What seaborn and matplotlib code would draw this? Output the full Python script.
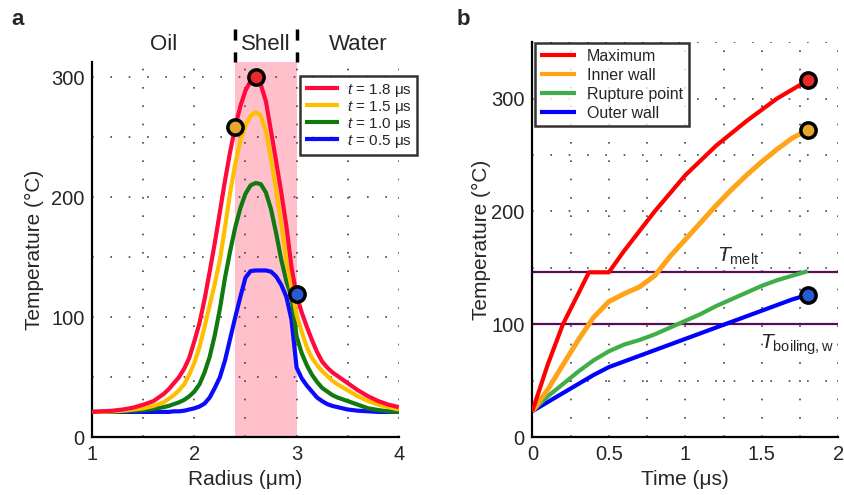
import matplotlib
matplotlib.use("Agg")
import matplotlib.pyplot as plt
import matplotlib.transforms as mtransforms
from matplotlib.lines import Line2D
from matplotlib.ticker import MultipleLocator
import seaborn as sns
import pandas as pd

# ---- panel a: temperature profiles across the radius ----
radius = [1.0, 1.1, 1.2, 1.3, 1.4, 1.5, 1.6, 1.7,
          1.75, 1.8, 1.85, 1.9, 1.95, 2.0, 2.05, 2.1, 2.15, 2.2,
          2.25, 2.3, 2.35, 2.4, 2.45, 2.5, 2.55, 2.6,
          2.65, 2.7, 2.75, 2.8, 2.85, 2.9, 2.95, 3.0,
          3.05, 3.1, 3.15, 3.2, 3.25, 3.3, 3.35, 3.4,
          3.5, 3.6, 3.7, 3.8, 3.9, 4.0]
temp_18 = [21, 21.5, 22, 23, 24.5, 27, 30, 36,
           40, 45, 50, 57, 66, 80, 95, 115, 138, 162,
           188, 214, 238, 259, 276, 289, 297, 300,
           294, 280, 255, 230, 204, 176, 142, 118,
           104, 92, 81, 71, 63, 58, 54, 51,
           45, 39, 34, 30, 27, 25]
temp_15 = [21, 21, 21.5, 22, 23, 24, 26, 29,
           32, 35, 39, 44, 52, 62, 75, 92, 110, 128,
           148, 175, 204, 228, 247, 260, 268, 271,
           268, 255, 232, 206, 178, 148, 125, 102,
           88, 75, 66, 60, 55, 51, 47, 44,
           39, 34, 30, 27, 25, 23]
temp_10 = [21, 21, 21, 21.5, 22, 22.5, 23.5, 25,
           26, 27.5, 29, 31, 34, 38, 44, 54, 67, 85,
           107, 133, 155, 175, 191, 203, 210, 212,
           211, 204, 190, 170, 148, 130, 117, 84,
           70, 60, 52, 46, 41, 38, 35, 33,
           30, 27, 24, 22.5, 21.5, 21]
temp_05 = [21, 21, 21, 21, 21, 21, 21, 21,
           21, 21.5, 21.5, 22, 23, 24, 25.5, 28, 33, 41,
           50, 64, 82, 100, 117, 133, 138.5, 139,
           139, 139, 138, 134, 127, 117, 98, 58,
           49, 43, 38, 33, 30, 27.5, 26, 25,
           23, 22, 21.5, 21, 21, 21]
profile_labels = ["$t$ = 1.8 μs", "$t$ = 1.5 μs", "$t$ = 1.0 μs", "$t$ = 0.5 μs"]
region_names = ["Oil", "Shell", "Water"]
region_pos = [1.7, 2.7, 3.6]
shell_edges = [2.4, 3.0]
# markers on the 1.8 us profile: inner wall, maximum, outer wall
mark_r = [2.4, 2.6, 3.0]
mark_t = [259, 300, 119]

# ---- panel b: temperature vs time ----
time_max = [0, 0.1, 0.2, 0.3, 0.37, 0.5, 0.6, 0.8, 1.0, 1.2, 1.4, 1.6, 1.8]
temp_max = [23, 64, 100, 127, 146, 146, 165, 200, 232, 258, 280, 300, 316]
time = [0, 0.1, 0.2, 0.3, 0.4, 0.5, 0.6, 0.7, 0.8, 0.9, 1.0, 1.1, 1.2, 1.3,
        1.4, 1.5, 1.6, 1.7, 1.8]
temp_inner = [23, 42, 64, 86, 106, 120, 127, 133, 143, 160, 175, 190, 205, 219,
              232, 244, 255, 265, 272]
temp_rupture = [23, 36, 47, 58, 68, 76, 82, 86, 91, 97, 103, 109, 116, 122,
                128, 134, 139, 143, 147]
temp_outer = [23, 31, 39, 47, 55, 62, 67, 72, 77, 82, 87, 92, 97, 102,
              107, 112, 117, 122, 126]
series_names = ["Maximum", "Inner wall", "Rupture point", "Outer wall"]
t_melt = 146
t_boiling = 100

sns.set_style("white")
plt.rcParams['font.family'] = ['Liberation Sans', 'DejaVu Sans']
plt.rcParams['mathtext.fontset'] = 'custom'
plt.rcParams['mathtext.rm'] = 'Liberation Sans'
plt.rcParams['mathtext.it'] = 'Liberation Sans:italic'
plt.rcParams['lines.solid_joinstyle'] = 'round'
plt.rcParams['lines.solid_capstyle'] = 'butt'

fig = plt.figure(figsize=(8.45, 4.95), dpi=100)
ax_a = fig.add_axes([0.109, 0.117, 0.363, 0.758])
ax_b = fig.add_axes([0.630, 0.117, 0.362, 0.798])

grid_kw = dict(color="#444444", linestyle=(0, (1, 10)), linewidth=1.2)


def style_axes(ax, tick_len):
    for side in ["top", "right"]:
        ax.spines[side].set_visible(False)
    for side in ["left", "bottom"]:
        ax.spines[side].set_linewidth(1.6)
        ax.spines[side].set_color("black")
    ax.tick_params(axis="x", which="both", direction="in", length=tick_len,
                   width=1.6, labelsize=14.5, pad=6)
    ax.tick_params(axis="y", which="both", direction="inout", length=4,
                   width=1.6, labelsize=14.5)
    ax.tick_params(which="minor", labelbottom=False, labelleft=False)
    ax.grid(True, which="both", **grid_kw)
    ax.set_axisbelow(True)


# panel a
n = len(radius)
df_a = pd.DataFrame({
    "r": radius * 4,
    "T": temp_05 + temp_10 + temp_15 + temp_18,
    "t": [profile_labels[3]] * n + [profile_labels[2]] * n
         + [profile_labels[1]] * n + [profile_labels[0]] * n,
})
pal_a = dict(zip(profile_labels, ["#ff0a3a", "#ffbf00", "#107a10", "#0a0aff"]))
ax_a.axvspan(shell_edges[0], shell_edges[1], color="#ffc0cb", lw=0, zorder=0)
sns.lineplot(data=df_a, x="r", y="T", hue="t", palette=pal_a,
             hue_order=profile_labels[::-1], lw=3, legend=False, ax=ax_a, zorder=3)
for r, T, c in zip(mark_r, mark_t, ["#e6a82a", "#e82a2a", "#2a5bd7"]):
    ax_a.plot(r, T, ls="none", marker="o", ms=11, mew=2.5, mec="black",
              mfc=c, zorder=5)
ax_a.set_xlim(1, 4)
ax_a.set_ylim(0, 313)
ax_a.xaxis.set_major_locator(MultipleLocator(1))
ax_a.xaxis.set_minor_locator(MultipleLocator(0.5))
ax_a.yaxis.set_major_locator(MultipleLocator(100))
ax_a.yaxis.set_minor_locator(MultipleLocator(50))
style_axes(ax_a, 8)
ax_a.set_xlabel("Radius (μm)", fontsize=15)
ax_a.set_ylabel("Temperature (°C)", fontsize=15, labelpad=5)

trans_a = mtransforms.blended_transform_factory(ax_a.transData, ax_a.transAxes)
for name, x in zip(region_names, region_pos):
    ax_a.text(x, 1.045, name, transform=trans_a, ha="center", va="center",
              fontsize=16)
for x in shell_edges:
    ax_a.plot([x, x], [1.088, 1.0], transform=trans_a, color="black", lw=2.5,
              ls=(0, (3.2, 3.4)), clip_on=False)

handles_a = [Line2D([], [], color=pal_a[k], lw=3) for k in profile_labels]
leg_a = ax_a.legend(handles_a, profile_labels, loc="upper left",
                    bbox_to_anchor=(0.355, 0.846), bbox_transform=fig.transFigure,
                    fontsize=11, frameon=True, fancybox=False,
                    handlelength=2.2, borderpad=0.35, labelspacing=0.0,
                    handletextpad=0.5, borderaxespad=0)
leg_a.get_frame().set_edgecolor("black")
leg_a.get_frame().set_linewidth(1.8)
leg_a.set_zorder(10)

# panel b
df_b = pd.DataFrame({
    "time": time_max + time * 3,
    "T": temp_max + temp_inner + temp_rupture + temp_outer,
    "s": [series_names[0]] * len(time_max) + [series_names[1]] * len(time)
         + [series_names[2]] * len(time) + [series_names[3]] * len(time),
})
pal_b = dict(zip(series_names, ["#ff0000", "#ffa31a", "#3fae48", "#0000ff"]))
ax_b.axhline(t_melt, color="#5a0a5a", lw=1.6, zorder=2)
ax_b.axhline(t_boiling, color="#5a0a5a", lw=1.6, zorder=2)
sns.lineplot(data=df_b, x="time", y="T", hue="s", palette=pal_b,
             hue_order=series_names[::-1], lw=3, legend=False, ax=ax_b, zorder=3)
ax_b.lines[-2].set_linewidth(3.6)  # rupture point drawn a bit heavier
for T, c in zip([temp_max[-1], temp_inner[-1], temp_outer[-1]],
                ["#e82a2a", "#e6a82a", "#2a5bd7"]):
    ax_b.plot(time[-1], T, ls="none", marker="o", ms=11, mew=2.5, mec="black",
              mfc=c, zorder=5)
ax_b.text(1.21, t_melt + 5, "$T_{\\rm melt}$", fontsize=15, ha="left", va="bottom")
ax_b.text(1.49, t_boiling - 7, "$T_{\\rm boiling,w}$", fontsize=15, ha="left",
          va="top")
ax_b.set_xlim(0, 2)
ax_b.set_ylim(0, 350)
ax_b.xaxis.set_major_locator(MultipleLocator(0.5))
ax_b.xaxis.set_minor_locator(MultipleLocator(0.25))
ax_b.yaxis.set_major_locator(MultipleLocator(100))
ax_b.yaxis.set_minor_locator(MultipleLocator(50))
style_axes(ax_b, 4)
ax_b.xaxis.set_major_formatter(plt.FuncFormatter(lambda v, p: f"{v:g}"))
ax_b.set_xlabel("Time (μs)", fontsize=15)
ax_b.set_ylabel("Temperature (°C)", fontsize=15, labelpad=0)

handles_b = [Line2D([], [], color=pal_b[k], lw=3) for k in series_names]
leg_b = ax_b.legend(handles_b, series_names, loc="upper left",
                    bbox_to_anchor=(0.633, 0.913), bbox_transform=fig.transFigure,
                    fontsize=11.5, frameon=True, fancybox=False,
                    handlelength=2.2, borderpad=0.35, labelspacing=0.25,
                    handletextpad=0.7, borderaxespad=0)
leg_b.get_frame().set_edgecolor("black")
leg_b.get_frame().set_linewidth(1.8)
leg_b.set_zorder(10)

fig.text(0.021, 0.96, "a", fontsize=16, fontweight="bold", ha="center", va="center")
fig.text(0.548, 0.96, "b", fontsize=16, fontweight="bold", ha="center", va="center")

fig.savefig("out.png", dpi=100)
